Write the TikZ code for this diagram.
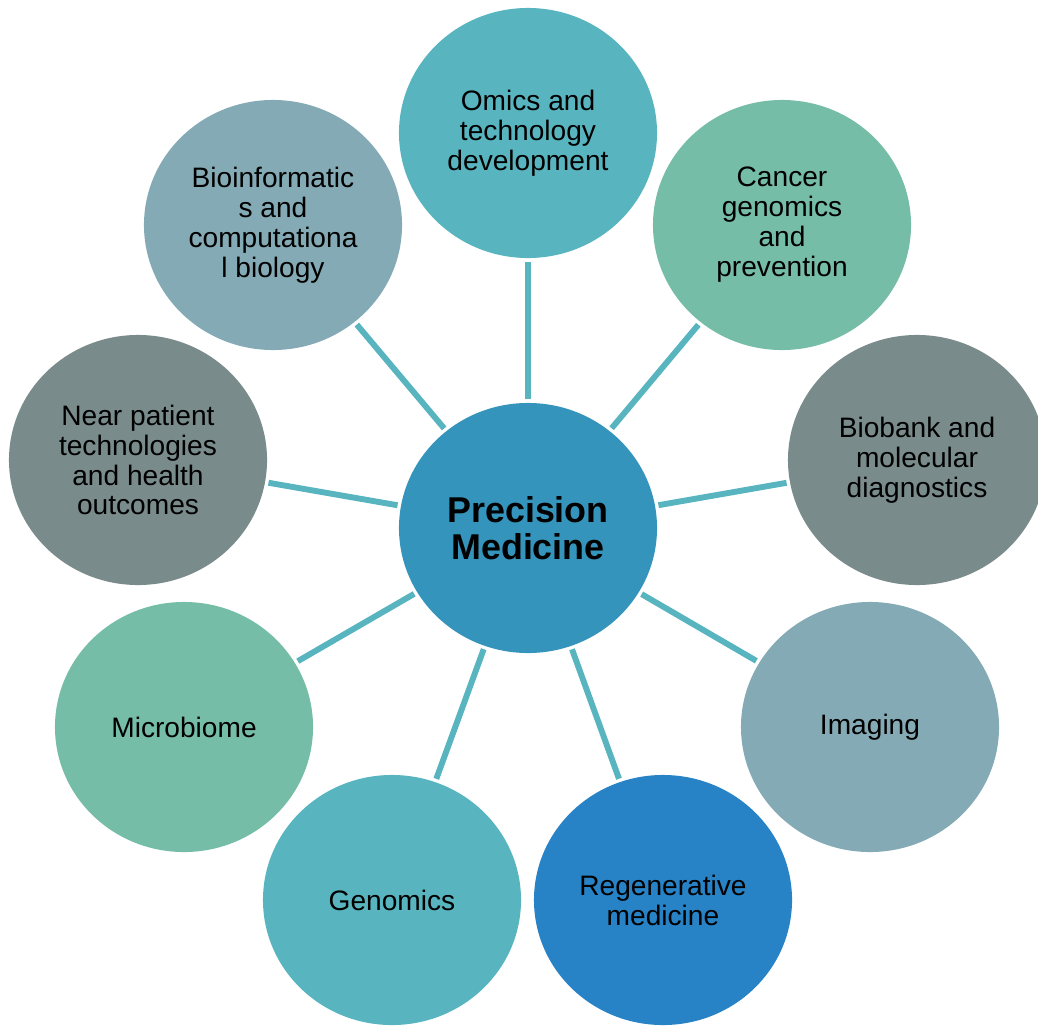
\documentclass[tikz,border=0pt]{standalone}
\usepackage{fontspec}
\setmainfont{Liberation Sans}
\usetikzlibrary{shapes.geometric}
\definecolor{HubBlue}{HTML}{3594BB}
\definecolor{Teal}{HTML}{58B5C0}
\definecolor{Mint}{HTML}{76BDA7}
\definecolor{Slate}{HTML}{798B8B}
\definecolor{Steel}{HTML}{84ABB5}
\definecolor{Royal}{HTML}{2782C6}
\tikzset{
  topic/.style={ellipse, fill=#1, draw=none, minimum width=6.45cm, minimum height=6.25cm,
                inner sep=0pt, outer sep=2.5pt, align=center, text=black,
                font=\fontsize{20}{21.3}\selectfont},
  hub/.style={topic=HubBlue, font=\fontsize{25.5}{26.5}\selectfont\bfseries},
  link/.style={line width=4.2pt, draw=Teal},
}

\begin{document}
\begin{tikzpicture}[x=0.025cm, y=-0.025cm]
\useasboundingbox (0,0) rectangle (1038,1025);
% ===================== centre
\node[hub] (hub) at (528,528) {Precision\\Medicine};
% ===================== ring of topics
\node[topic=Teal]  (omics)   at (528,133) {Omics and\\technology\\development};
\node[topic=Mint]  (cancer)  at (782,225) {Cancer\\genomics\\and\\prevention};
\node[topic=Slate] (biobank) at (917,460) {Biobank and\\molecular\\diagnostics};
\node[topic=Steel] (imaging) at (870,727) {Imaging};
\node[topic=Royal] (regen)   at (663,900) {Regenerative\\medicine};
\node[topic=Teal]  (genom)   at (392,900) {Genomics};
\node[topic=Mint]  (micro)   at (184,727) {Microbiome};
\node[topic=Slate] (near)    at (138,460) {Near patient\\technologies\\and health\\outcomes};
\node[topic=Steel] (bioinf)  at (273,225) {Bioinformatic\\s and\\computationa\\l biology};
% spokes
\foreach \t in {omics,cancer,biobank,imaging,regen,genom,micro,near,bioinf}
  \draw[link] (hub) -- (\t);
\end{tikzpicture}
\end{document}
